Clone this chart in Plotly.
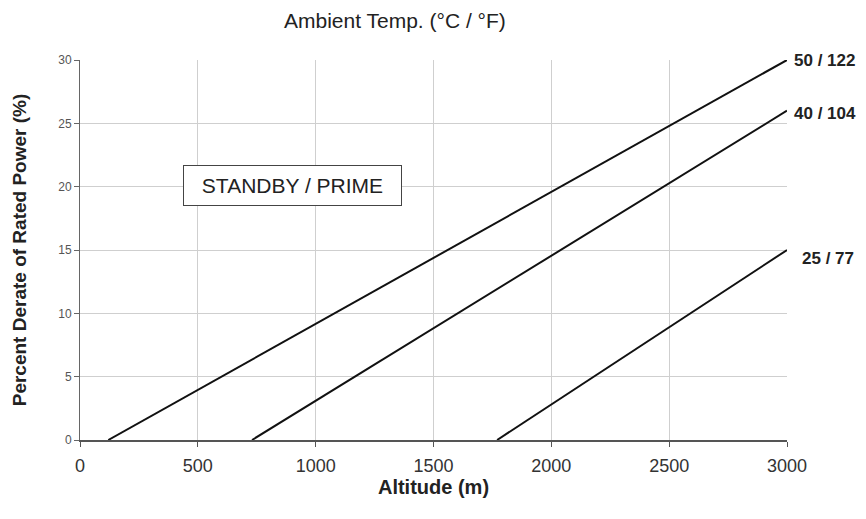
import plotly.graph_objects as go

# derate curves: altitude (m) vs percent derate, one per ambient temperature
temp_labels = ["50 / 122", "40 / 104", "25 / 77"]
altitude_start = [120, 730, 1770]
altitude_end = [3000, 3000, 3000]
derate_start = [0, 0, 0]
derate_end = [30, 26, 15]

x_ticks = [0, 500, 1000, 1500, 2000, 2500, 3000]
y_ticks = [0, 5, 10, 15, 20, 25, 30]

font = "Liberation Sans, Arial, sans-serif"

fig = go.Figure()
for lab, x0, x1, y0, y1 in zip(temp_labels, altitude_start, altitude_end, derate_start, derate_end):
    fig.add_trace(go.Scatter(
        x=[x0, x1], y=[y0, y1], mode="lines", name=lab,
        line=dict(color="#111111", width=2), showlegend=False
    ))
    fig.add_annotation(
        x=x1, y=y1, text="<b>" + lab + "</b>", showarrow=False,
        xanchor="left", xshift=5 if lab != "25 / 77" else 13,
        yshift=0 if lab == "50 / 122" else (-3 if lab == "40 / 104" else -8),
        font=dict(family=font, size=17, color="#222222")
    )

fig.add_annotation(
    x=900, y=20.1, text="STANDBY / PRIME", showarrow=False,
    font=dict(family=font, size=21, color="#222222"),
    width=215, height=37, borderpad=1,
    bordercolor="#444444", borderwidth=1, bgcolor="white"
)

fig.add_annotation(
    x=0.446, y=1, xref="paper", yref="paper", yshift=53,
    text="Ambient Temp. (°C / °F)", showarrow=False,
    font=dict(family=font, size=21, color="#222222")
)

fig.update_layout(
    width=866, height=519,
    margin=dict(l=72, r=87, t=52, b=87),
    plot_bgcolor="white", paper_bgcolor="white",
    xaxis=dict(
        range=[0, 3000], tickvals=x_ticks, ticktext=[str(v) for v in x_ticks],
        showgrid=True, gridcolor="#cfcfcf", gridwidth=1,
        showline=True, linecolor="#555555", linewidth=1.5,
        ticks="outside", ticklen=5, tickcolor="#555555",
        ticklabelstandoff=4,
        tickfont=dict(family=font, size=18, color="#333333"),
        title=dict(text="<b>Altitude (m)</b>", standoff=0,
                   font=dict(family=font, size=20, color="#222222")),
        zeroline=False,
    ),
    yaxis=dict(
        range=[0, 30], tickvals=y_ticks,
        showgrid=True, gridcolor="#cfcfcf", gridwidth=1,
        showline=True, linecolor="#666666", linewidth=1,
        ticks="outside", ticklen=5, tickcolor="#666666",
        tickfont=dict(family=font, size=12, color="#555555"),
        title=dict(text="<b>Percent Derate of Rated Power (%)</b>", standoff=26,
                   font=dict(family=font, size=19, color="#222222")),
        zeroline=False,
    ),
)

fig.write_html("out.html")
